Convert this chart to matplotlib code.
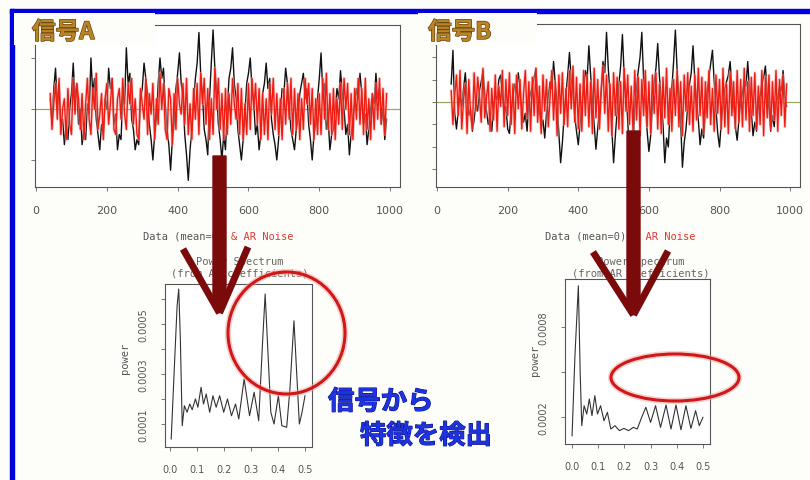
import matplotlib
matplotlib.use("Agg")
import matplotlib.pyplot as plt
import numpy as np
from matplotlib.patches import Rectangle, Ellipse, Polygon
import matplotlib.patheffects as pe

# ---------------------------------------------------------------- data
# signal A: observed data (black) and AR noise (red), sampled every 5 steps from t=40
sigA_data = [
    .2, -.3, .4, .8, .1, .5, -.4, -.2, -.7, -.3,
    -.6, 0, .3, .9, .2, .5, -.3, 0, -.7, -.4,
    -.6, .1, -.1, 1.0, .3, .6, -.2, -.5, -.8, -.3,
    -.5, .2, 0, .8, .4, .6, -.3, -.1, -.8, -.5,
    -.6, .3, .1, 1.2, .5, .7, -.2, -.4, -.8, -.6,
    -.7, .2, .4, .9, .6, .3, -.3, -.6, -1.0, -.5,
    -.2, .5, 1.0, .6, .8, .1, -.4, -.7, -1.2, -.6,
    -.3, .4, .7, 1.1, .5, .2, -.5, -.9, -1.4, -.8,
    -.4, .1, .6, .9, 1.5, .7, .3, -.4, -.6, -.9,
    .2, .9, 1.55, .8, .4, -.3, -.6, -1.0, -.5, -.8,
    0, .6, .8, 1.2, .5, .2, -.4, -.7, -1.0, -.6,
    -.1, .5, .7, 1.0, .4, .1, -.5, -.3, -.8, -.5,
    .3, .5, .9, .4, .6, -.2, -.5, -.7, -1.0, -.6,
    -.1, .4, .3, .8, .5, .1, -.4, -.6, -.8, -.4,
    -.2, .3, .5, .7, .2, .4, -.3, -.6, -1.0, -.5,
    -.3, .2, .6, 1.1, .3, .5, -.4, -.2, -.8, -.5,
    -.4, 0, .4, .2, .75, .3, 0, -.5, -.3, -.9,
    -.5, -.2, .1, .4, .2, .7, .3, -.3, -.1, -.7,
    -.4, 0, .3, .1, .7, .2, .4, -.3, 0, -.6,
    -.2,
]
sigA_noise = [
    .3, -.4, .1, .5, -.2, .6, -.5, 0, .2, -.6,
    .4, -.3, -.5, .6, -.1, .5, .2, -.4, .3, -.6,
    .1, .6, -.2, -.5, .4, 0, .7, -.4, -.1, .3,
    -.6, .2, .5, -.3, .1, .6, -.4, -.5, .2, .4,
    -.2, .6, -.1, -.4, .5, .1, .6, -.3, .2, -.5,
    -.6, .4, .1, -.2, .6, -.5, .3, -.1, .5, -.6,
    .2, -.3, .7, 0, .5, -.4, -.6, .4, .2, -.7,
    .3, -.4, .6, .1, -.1, .5, -.3, .6, -.5, .1,
    -.6, .4, -.2, .5, -.5, .7, .1, .6, -.3, .4,
    -.6, .2, -.5, .8, 0, .6, -.4, .3, -.6, .4,
    -.5, .3, -.3, .6, .1, -.2, .5, -.5, .4, -.6,
    .1, -.5, .5, -.4, .6, 0, .5, -.3, .4, -.6,
    .3, -.5, .2, -.6, .5, -.1, .6, -.4, .3, -.5,
    .2, -.6, .4, -.3, .5, -.2, .6, -.5, .4, -.4,
    .3, -.6, .2, -.4, .6, .1, .5, -.3, .4, -.6,
    .2, -.5, .3, -.5, .6, -.2, .7, -.4, .3, -.5,
    .4, -.6, .2, -.3, .5, -.4, .6, 0, .5, -.5,
    .3, -.6, .4, -.2, .6, -.3, .4, -.5, .6, -.4,
    .2, -.6, .3, -.4, .5, -.2, .6, -.3, .4, -.5,
    .3,
]
# signal B: observed data (black) and AR noise (red)
sigB_data = [
    .8, 2.3, -.5, -1.2, -.4, .3, -.2, .6, 1.3, .2,
    -.6, -.3, -1.3, -.8, 0, -.4, .5, .9, 1.4, .4,
    -.4, -1.0, -.6, -1.3, -.2, .3, .1, 1.0, 1.2, .3,
    -.5, -.2, -1.2, -1.4, -.3, .2, .8, .4, 1.3, .6,
    -.3, -.9, -.5, -1.3, 0, .4, .7, 1.1, 1.5, .2,
    -.4, -1.2, -.8, -1.6, -.5, .2, .9, .6, 1.8, .8,
    0, -1.4, -2.7, -1.8, -.6, .3, 1.2, 2.2, 1.0, .4,
    -.6, -1.3, -1.9, -1.0, -.2, .5, 1.4, 1.0, 2.5, 1.2,
    .2, -1.0, -2.1, -1.2, -.3, .6, 1.8, 1.3, 3.1, 1.5,
    .3, -1.2, -2.7, -1.5, -.4, .8, 1.6, 3.0, 1.2, .4,
    -.8, -2.4, -1.4, -2.0, -.3, .7, 1.4, 2.0, 3.1, 1.0,
    0, -1.3, -2.2, -1.5, -.2, .9, 1.5, 2.6, 1.1, .2,
    -1.0, -2.7, -1.6, -2.0, -.4, .6, 1.8, 3.2, 1.4, .3,
    -.9, -2.9, -1.8, -1.2, -.2, .8, 1.3, 2.5, 1.0, .1,
    -.8, -1.9, -1.2, -1.6, -.4, .5, 1.1, 1.7, 2.3, .9,
    -.3, -1.4, -2.0, -.9, -.2, .6, .9, 1.2, 1.8, .7,
    -.2, -1.1, -1.7, -.8, 0, .4, 1.0, .7, 1.8, .5,
    -.4, -1.5, -.9, -1.3, -.1, .3, .8, 1.1, 1.6, .4,
    -.3, -1.3, -.6, -1.1, 0, .2, .7, .5, 1.4, .3,
    -.2,
]
sigB_noise = [
    .5, -1.0, .3, 1.2, -.6, 1.4, -1.2, .1, .8, -1.4,
    1.0, -.5, -1.2, 1.3, -.4, 1.1, .3, -.9, 1.5, -.7,
    .2, .9, -1.3, .6, -.8, 1.2, -1.3, .7, -.2, 1.4,
    -1.1, 1.0, -.6, 1.3, -1.0, .8, -1.4, 1.2, -.3, 1.0,
    -1.2, .4, 1.4, -.7, .9, -1.3, 1.1, -.6, 1.5, -.9,
    .7, -1.4, 1.2, -.4, 1.0, -1.1, .2, 1.4, -.8, .9,
    -1.5, 1.2, -.5, 1.3, -1.0, .6, -1.1, 1.4, -.3, 1.6,
    -.9, 1.1, -1.2, .8, -1.3, 1.4, -.6, 1.2, -1.1, .9,
    -1.4, 1.5, -.7, 1.0, -1.2, .5, 1.6, -.5, 1.2, -1.3,
    .8, -1.5, 1.3, -.6, 1.1, -1.2, .9, -1.4, 1.5, -.4,
    1.2, -1.0, .7, -1.3, 1.4, -.8, 1.1, -1.5, 1.0, -.6,
    1.4, -1.1, .9, -1.4, 1.2, -.5, 1.3, -1.2, .8, -1.4,
    1.1, -.7, 1.5, -1.0, .6, -1.3, 1.0, -.6, 1.4, -1.1,
    .9, -1.5, 1.2, -.4, 1.3, -1.0, .7, -1.3, 1.2, -.8,
    1.5, -.6, 1.1, -1.4, .9, -.7, 1.4, -1.0, .6, -1.3,
    1.2, -.5, 1.0, -1.2, 1.5, -1.1, .8, -1.4, 1.3, -.6,
    .9, -1.2, 1.4, -.9, 1.0, -1.1, 1.5, -.8, .9, -1.3,
    1.1, -.6, 1.3, -1.2, .7, -1.0, 1.4, -1.5, 1.1, -.7,
    1.2, -1.2, .9, -.8, 1.4, -1.3, 1.0, -.6, 1.2, -1.1,
    .8,
]
t_first, t_step = 40, 5

# power spectra computed from the AR coefficients
specA_freq = [0.003, 0.015, 0.025, 0.031, 0.037, 0.044, 0.052, 0.062, 0.072, 0.081,
              0.093, 0.102, 0.114, 0.123, 0.133, 0.146, 0.158, 0.170, 0.183, 0.198,
              0.212, 0.227, 0.242, 0.254, 0.274, 0.294, 0.311, 0.328, 0.343, 0.352,
              0.360, 0.373, 0.385, 0.401, 0.414, 0.432, 0.444, 0.459, 0.469, 0.479,
              0.489, 0.500]
specA_power = [0.000040, 0.000333, 0.000573, 0.000640, 0.000440, 0.000093, 0.000173,
               0.000147, 0.000180, 0.000157, 0.000200, 0.000167, 0.000247, 0.000180,
               0.000220, 0.000147, 0.000213, 0.000167, 0.000213, 0.000147, 0.000200,
               0.000133, 0.000180, 0.000120, 0.000280, 0.000133, 0.000227, 0.000113,
               0.000440, 0.000620, 0.000440, 0.000147, 0.000100, 0.000213, 0.000093,
               0.000087, 0.000240, 0.000513, 0.000307, 0.000100, 0.000147, 0.000213]
specB_freq = [0.000, 0.011, 0.024, 0.031, 0.037, 0.046, 0.056, 0.066, 0.076, 0.087,
              0.097, 0.109, 0.122, 0.135, 0.148, 0.164, 0.181, 0.198, 0.216, 0.234,
              0.249, 0.266, 0.282, 0.300, 0.319, 0.338, 0.359, 0.378, 0.397, 0.416,
              0.435, 0.454, 0.472, 0.486, 0.500]
specB_power = [0.000075, 0.000609, 0.001075, 0.000498, 0.000142, 0.000275, 0.000220,
               0.000320, 0.000209, 0.000342, 0.000220, 0.000275, 0.000175, 0.000231,
               0.000120, 0.000142, 0.000109, 0.000124, 0.000109, 0.000131, 0.000120,
               0.000198, 0.000265, 0.000164, 0.000275, 0.000131, 0.000280, 0.000120,
               0.000280, 0.000115, 0.000275, 0.000124, 0.000242, 0.000142, 0.000198]

time_ticks = [0, 200, 400, 600, 800, 1000]
freq_ticks = [0.0, 0.1, 0.2, 0.3, 0.4, 0.5]
freq_labels = ["0.0", "0.1", "0.2", "0.3", "0.4", "0.5"]
specA_yticks = [0.0001, 0.0002, 0.0003, 0.0004, 0.0005, 0.0006]
specA_ylabels = ["0.0001", "", "0.0003", "", "0.0005", ""]
specB_yticks = [0.0002, 0.0005, 0.0008]
specB_ylabels = ["0.0002", "", "0.0008"]

# ---------------------------------------------------------------- layout
W, H = 810, 481
BG = "#fdfdf9"
fig = plt.figure(figsize=(W / 100, H / 100), dpi=100)
fig.patch.set_facecolor(BG)

CJK = ["Noto Sans CJK JP", "DejaVu Sans"]
MONO = "DejaVu Sans Mono"


def rect(l, t, r, b):
    return [l / W, 1 - b / H, (r - l) / W, (b - t) / H]


def style_axes(ax, size):
    for s in ax.spines.values():
        s.set_color("#555555")
        s.set_linewidth(0.8)
    ax.tick_params(direction="out", length=3, width=0.7, colors="#777777",
                   labelcolor="#555555", labelsize=size)


def series_panel(box, data, noise, ylim, yticks):
    ax = fig.add_axes(rect(*box))
    ax.set_facecolor("white")
    t_data = np.arange(len(data)) * t_step + t_first
    t_noise = np.arange(len(noise)) * t_step + t_first
    ax.axhline(0, color="#9aa65a", lw=0.9, zorder=1)
    ax.plot(t_data, data, color="#111111", lw=1.0, zorder=2)
    ax.plot(t_noise, noise, color="#f4a8a4", lw=2.2, alpha=0.55, zorder=3)
    ax.plot(t_noise, noise, color="#f01c12", lw=1.0, zorder=3)
    ax.set_xlim(-3, 1028)
    ax.set_ylim(*ylim)
    ax.set_xticks(time_ticks)
    ax.set_yticks(yticks)
    ax.set_yticklabels([])
    style_axes(ax, 8)
    ax.tick_params(axis="x", pad=10)
    return ax


def spectrum_panel(box, freq, power, xlim, ylim, yticks, ylabels, ypad):
    ax = fig.add_axes(rect(*box))
    ax.set_facecolor("white")
    ax.plot(freq, power, color="#333333", lw=0.8)
    ax.set_xlim(*xlim)
    ax.set_ylim(*ylim)
    ax.set_xticks(freq_ticks)
    ax.set_xticklabels(freq_labels)
    ax.set_yticks(yticks)
    ax.set_yticklabels(ylabels, rotation=90, va="center")
    style_axes(ax, 7)
    ax.tick_params(axis="x", pad=9)
    ax.tick_params(axis="y", pad=ypad)
    return ax


series_panel((35, 26, 400, 188), sigA_data, sigA_noise, (-1.53, 1.647), [-1, 0, 1])
series_panel((436, 25, 800, 188), sigB_data, sigB_noise, (-3.78, 3.47), [-3, -2, -1, 0, 1, 2])

spectrum_panel((165, 285, 312, 448), specA_freq, specA_power, (-0.02, 0.526),
               (0.000008, 0.00066), specA_yticks, specA_ylabels, 9)
spectrum_panel((565, 280, 710, 445), specB_freq, specB_power, (-0.027, 0.527),
               (0.00002, 0.00112), specB_yticks, specB_ylabels, 9)

# ---------------------------------------------------------------- annotations (pixel space)
ov = fig.add_axes([0, 0, 1, 1], zorder=10)
ov.set_xlim(0, W)
ov.set_ylim(H, 0)
ov.axis("off")
ov.patch.set_alpha(0)

# slide frame
ov.add_patch(Rectangle((10, 10), W - 10, 3.5, color="#0000dc", zorder=1))
ov.add_patch(Rectangle((10, 10), 3.5, H - 10, color="#0000dc", zorder=1))

# title plates over the upper-left corner of each panel
ov.add_patch(Rectangle((14, 14), 141, 32, facecolor=BG, edgecolor="none", zorder=1))
ov.add_patch(Rectangle((418, 14), 119, 32, facecolor=BG, edgecolor="none", zorder=1))
title_fx = [pe.withStroke(linewidth=1.0, foreground="#6a4510")]
ov.text(32, 33, "信号A", fontsize=17, fontweight="bold", color="#b88428",
        family=CJK, va="center", ha="left", path_effects=title_fx, zorder=2)
ov.text(428, 33, "信号B", fontsize=17, fontweight="bold", color="#b88428",
        family=CJK, va="center", ha="left", path_effects=title_fx, zorder=2)

# axis captions
char_w = 7.5 / 72 * 100 * 0.602
for x0 in (143, 545):
    ov.text(x0, 237, "Data (mean=0) ", fontsize=7.5, family=MONO, color="#555555",
            va="center", ha="left", zorder=2)
    ov.text(x0 + 14 * char_w, 237, "& AR Noise", fontsize=7.5, family=MONO,
            color="#e03a30", va="center", ha="left", zorder=2)
for xc in (240, 641):
    ov.text(xc, 262, "Power Spectrum", fontsize=7.5, family=MONO, color="#666666",
            va="center", ha="center", zorder=2)
    ov.text(xc, 274, "(from AR coefficients)", fontsize=7.5, family=MONO,
            color="#666666", va="center", ha="center", zorder=2)
ov.text(125, 358, "power", fontsize=7.5, family=MONO, color="#555555", rotation=90,
        va="center", ha="center", zorder=2)
ov.text(535, 360, "power", fontsize=7.5, family=MONO, color="#555555", rotation=90,
        va="center", ha="center", zorder=2)

# arrows from each signal down to its spectrum
ARROW = "#7b0b0b"


def down_arrow(x0, x1, top, tip, left_end, right_end):
    xm = (x0 + x1) / 2
    ov.add_patch(Polygon([(x0, top), (x1, top), (x1, tip - 14), (xm, tip), (x0, tip - 14)],
                         closed=True, color=ARROW, zorder=5))
    for ex, ey in (left_end, right_end):
        ov.plot([ex, xm], [ey, tip], color=ARROW, lw=5, solid_capstyle="butt", zorder=5)


down_arrow(213, 226, 157, 314, (183, 250), (248, 248))
down_arrow(627, 640, 132, 316, (593, 253), (668, 252))

# highlighted regions of the spectra
for (cx, cy, w, h) in ((286.5, 334, 117, 122), (675, 378.5, 128, 47)):
    ov.add_patch(Ellipse((cx, cy), w, h, fill=False, ec="#f0a0a0", lw=4.5, alpha=0.5, zorder=6))
    ov.add_patch(Ellipse((cx, cy), w, h, fill=False, ec="#d01818", lw=2.2, zorder=7))

# caption
cap_fx = [pe.withStroke(linewidth=0.8, foreground="#0a1490")]
ov.text(328, 403, "信号から", fontsize=19, fontweight="bold", color="#1f33dc",
        family=CJK, va="center", ha="left", path_effects=cap_fx, zorder=8)
ov.text(360, 437, "特徴を検出", fontsize=19, fontweight="bold", color="#1f33dc",
        family=CJK, va="center", ha="left", path_effects=cap_fx, zorder=8)

fig.savefig("out.png", dpi=100, facecolor=BG)
